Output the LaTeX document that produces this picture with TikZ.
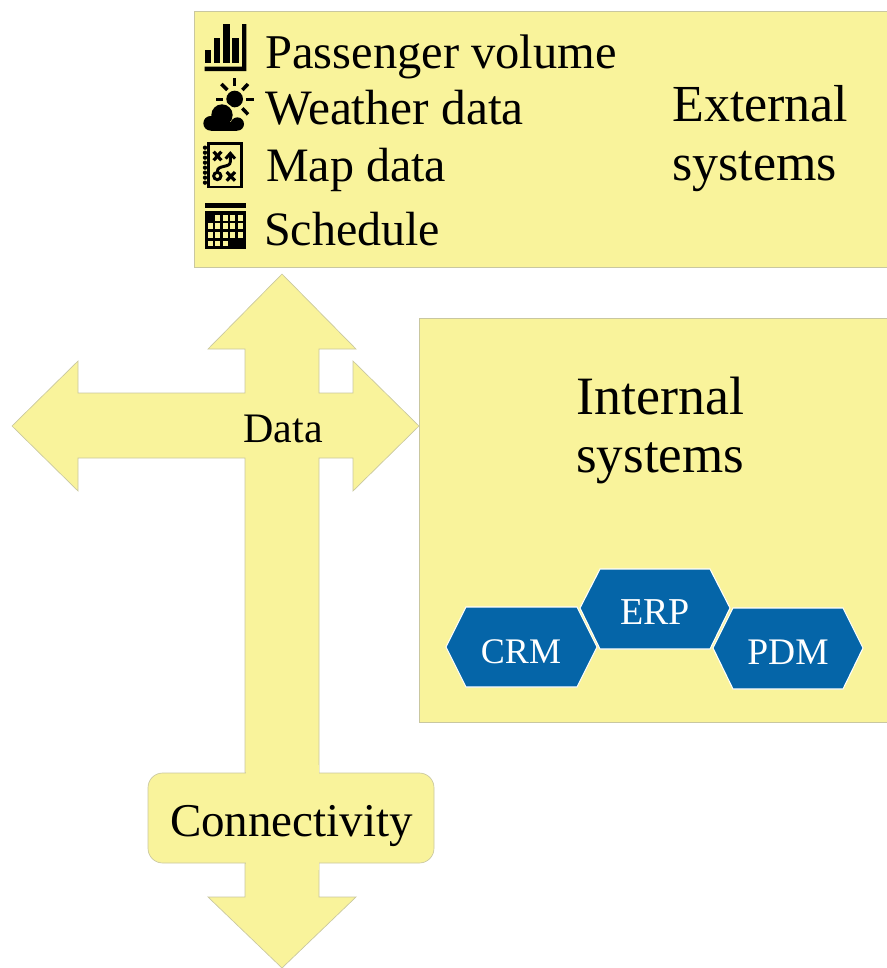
\documentclass[tikz,border=0pt]{standalone}
\usepackage{fontspec}
\setmainfont{Liberation Serif}
\definecolor{pale}{HTML}{F9F39B}
\definecolor{edge}{HTML}{C9C7A0}
\definecolor{hexblue}{HTML}{0565A8}
\newcommand{\px}[1]{\fontsize{\fpeval{#1*0.75}}{\fpeval{#1*0.9}}\selectfont}
\tikzset{
  panel/.style={fill=pale,draw=edge,line width=0.5pt},
  hexa/.style={fill=hexblue,draw=white,line width=0.8pt},
  lbl/.style={inner sep=0pt,anchor=base west,text=black},
  lblc/.style={inner sep=0pt,anchor=base,text=black},
  hexlbl/.style={inner sep=0pt,anchor=base,text=white},
  ink/.style={fill=black,draw=none},
  inkline/.style={draw=black,line width=2.6pt,fill=none}
}
\begin{document}
\begin{tikzpicture}[x=0.75pt,y=-0.75pt]
\useasboundingbox (0,0) rectangle (887,968);
% panels
\path[panel] (194,11) rectangle (887,267);
\path[panel] (419,318) rectangle (887,722);
% cross arrow
\path[panel] (282,274) -- (356,349) -- (319,349) -- (319,393) -- (353,393) -- (353,361) -- (419,426)
  -- (353,491) -- (353,458) -- (319,458) -- (319,773) -- (245,773) -- (245,458) -- (78,458) -- (78,491)
  -- (12,426) -- (78,361) -- (78,393) -- (245,393) -- (245,349) -- (208,349) -- cycle;
\path[panel] (319,863) -- (319,897) -- (356,897) -- (282,968) -- (208,897) -- (245,897) -- (245,863) -- cycle;
\path[panel,rounded corners=11pt] (148,773) rectangle (434,863);
\fill[pale] (245.5,765) rectangle (318.5,780);
\fill[pale] (245.5,855) rectangle (318.5,870);
% hexagons
\path[hexa] (446,647) -- (466,607) -- (577,607) -- (597,647) -- (577,687) -- (466,687) -- cycle;
\path[hexa] (580,608) -- (600,569) -- (710,569) -- (730,608) -- (710,649) -- (600,649) -- cycle;
\path[hexa] (713,648) -- (733,608) -- (843,608) -- (863,648) -- (843,689) -- (733,689) -- cycle;
% texts
\node[lbl] (t1) at (265,68) {\px{48.5}Passenger volume};
\node[lbl] (t2) at (265,124) {\px{49.5}Weather data};
\node[lbl] (t3) at (266,181) {\px{48}Map data};
\node[lbl] (t4) at (264,245) {\px{48}Schedule};
\node[lbl] (ext1) at (672,121) {\px{52}External};
\node[lbl] (ext2) at (672,180) {\px{52}systems};
\node[lbl] (int1) at (576,414) {\px{54}Internal};
\node[lbl] (int2) at (576,472) {\px{53}systems};
\node[lblc] (data) at (283,442) {\px{42}Data};
\node[lblc] (conn) at (291.5,836) {\px{47}Connectivity};
\node[hexlbl] (crm) at (521,663) {\px{36}CRM};
\node[hexlbl] (erp) at (655,624) {\px{38}ERP};
\node[hexlbl] (pdm) at (788,664) {\px{37.5}PDM};
% icons: bar chart and weather, in 1/3 px units
\begin{scope}[shift={(198,20)},x=0.25pt,y=-0.25pt]
  \fill[ink] (20,90) rectangle (38,130);
  \fill[ink] (47,55) rectangle (67,130);
  \fill[ink] (75,12) rectangle (95,130);
  \fill[ink] (102,55) rectangle (122,130);
  \fill[ink] (20,140) -- (132,140) -- (132,12) -- (145,12) -- (145,153) -- (20,153) -- cycle;
  \fill[ink] (110,237) circle (25);
  \draw[inkline] (110,175) -- (110,198);
  \draw[inkline] (70,192) -- (88,210);
  \draw[inkline] (150,192) -- (133,210);
  \draw[inkline] (55,238) -- (75,238);
  \draw[inkline] (145,238) -- (167,238);
  \draw[inkline] (133,265) -- (150,283);
  \begin{scope}
    \fill[pale] (38,310) circle (28) (72,285) circle (38) (118,312) circle (26);
    \fill[ink] (38,310) circle (22) (72,285) circle (32) (118,312) circle (20);
    \fill[ink] (38,305) rectangle (118,332);
  \end{scope}
\end{scope}
% icons: map and schedule, in 1/3 px units
\begin{scope}[shift={(198,135)},x=0.25pt,y=-0.25pt]
  \draw[black,line width=2.2pt] (31,26) rectangle (131,156);
  \foreach \yy in {38,53,...,150} \fill[ink] (21,\yy) circle (6.5);
  \draw[black,line width=2.4pt] (47,50) -- (70,76) (70,50) -- (47,76);
  \draw[black,line width=2.4pt] (86,111) -- (111,137) (111,111) -- (86,137);
  \draw[black,line width=2.2pt] (58,123) circle (11);
  \draw[black,line width=2.2pt] (58,110) .. controls (58,88) and (97,100) .. (97,80) -- (97,58);
  \draw[black,line width=2.2pt] (83,71) -- (97,55) -- (111,71);
  \fill[ink] (22,203) rectangle (143,220);
  \fill[ink] (22,228) rectangle (143,343);
  \foreach \xx in {52,75,97,119} \fill[pale] (\xx,240) rectangle (\xx+15,258);
  \foreach \xx in {30,52,75,97,119} {
    \fill[pale] (\xx,265) rectangle (\xx+15,283);
    \fill[pale] (\xx,290) rectangle (\xx+15,308);
  }
  \foreach \xx in {30,52,75} \fill[pale] (\xx,317) rectangle (\xx+15,333);
\end{scope}
\end{tikzpicture}
\end{document}
